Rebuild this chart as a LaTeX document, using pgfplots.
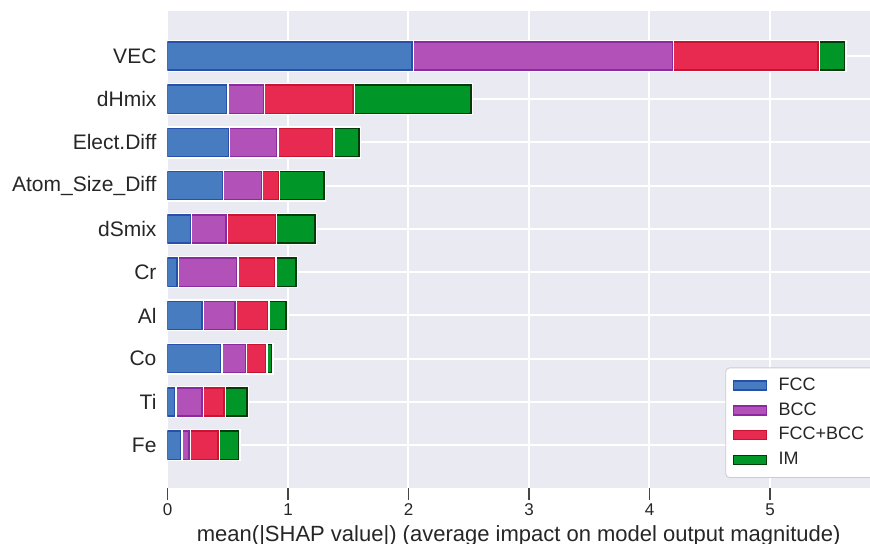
\documentclass[border=0pt]{standalone}
\usepackage{pgfplots}
\pgfplotsset{compat=1.18}
\usepackage{pgfplotstable}
\usepackage{fontspec}
\setmainfont{Liberation Sans}
\definecolor{bg}{RGB}{234,234,242}
\definecolor{txt}{RGB}{38,38,38}
\definecolor{tk}{RGB}{70,70,70}
\definecolor{cF}{RGB}{72,124,192}\definecolor{eF}{RGB}{40,80,170}
\definecolor{cB}{RGB}{178,82,184}\definecolor{eB}{RGB}{140,40,160}
\definecolor{cR}{RGB}{232,42,80}\definecolor{eR}{RGB}{200,20,50}
\definecolor{cG}{RGB}{0,150,40}\definecolor{eG}{RGB}{0,60,10}
\pgfplotstableread{
y FCC BCC FB IM
9 2.03 2.16 1.21 0.22
8 0.49 0.305 0.745 0.98
7 0.505 0.40 0.465 0.22
6 0.455 0.325 0.14 0.38
5 0.19 0.295 0.41 0.33
4 0.08 0.495 0.315 0.175
3 0.285 0.275 0.27 0.155
2 0.44 0.205 0.17 0.05
1 0.06 0.225 0.185 0.19
0 0.11 0.07 0.24 0.17
}\data
\begin{document}
\begin{tikzpicture}
\begin{axis}[
  name=ax,
  scale only axis, width=351.25pt, height=238.5pt,
  xbar stacked, bar width=0.65,
  xmin=0, xmax=5.83, ymin=-0.99, ymax=10.04,
  axis background/.style={fill=bg},
  axis line style={draw=none},
  grid=major, grid style={white, line width=1pt},
  xtick={0,1,2,3,4,5},
  ytick={0,...,9},
  yticklabels={Fe,Ti,Co,Al,Cr,dSmix,Atom\_Size\_Diff,Elect.Diff,dHmix,VEC},
  tick align=outside, xtick pos=bottom,
  major tick length=6pt,
  xtick style={draw=tk, line width=0.7pt},
  ytick style={draw=none},
  yticklabel style={font=\fontsize{10.5}{12}\selectfont, text=txt, xshift=4pt},
  xticklabel style={font=\fontsize{8.5}{10}\selectfont, text=txt, yshift=1.5pt},
  /pgf/number format/assume math mode=true,
  xlabel={mean(|SHAP value|) (average impact on model output magnitude)},
  xlabel style={font=\fontsize{11}{13}\selectfont, text=txt, yshift=2pt},
  legend style={at={(0.794,0.021)}, anchor=south west, draw=black!20, rounded corners=2pt,
    fill=white, font=\fontsize{9}{11}\selectfont, text=txt, row sep=0.6pt,
    inner xsep=3pt, inner ysep=3pt, cells={anchor=west}},
  legend image code/.code={\draw[#1, sharp corners] (0pt,-2.25pt) rectangle (16.5pt,2.25pt); \path (19.5pt,0pt);},
  every axis plot/.append style={line width=0.7pt, preaction={draw=white, line width=2pt}},
]
\addplot[fill=cF, draw=eF] table[x=FCC,y=y] \data;
\addplot[fill=cB, draw=eB] table[x=BCC,y=y] \data;
\addplot[fill=cR, draw=eR] table[x=FB,y=y] \data;
\addplot[fill=cG, draw=eG] table[x=IM,y=y] \data;
\legend{FCC,BCC,FCC+BCC,IM}
\end{axis}
\draw[tk, line width=0.8pt] ([yshift=-2pt]ax.south west) -- ++(0pt,-4pt);
\draw[tk, line width=0.8pt] ([xshift=60.249pt, yshift=-2pt]ax.south west) -- ++(0pt,-4pt);
\draw[tk, line width=0.8pt] ([xshift=120.498pt, yshift=-2pt]ax.south west) -- ++(0pt,-4pt);
\draw[tk, line width=0.8pt] ([xshift=180.747pt, yshift=-2pt]ax.south west) -- ++(0pt,-4pt);
\draw[tk, line width=0.8pt] ([xshift=240.996pt, yshift=-2pt]ax.south west) -- ++(0pt,-4pt);
\draw[tk, line width=0.8pt] ([xshift=301.245pt, yshift=-2pt]ax.south west) -- ++(0pt,-4pt);
\pgfresetboundingbox
\path ([xshift=-83.75pt, yshift=-28pt]ax.south west) rectangle ([yshift=5.5pt]ax.north east);
\end{tikzpicture}
\end{document}
